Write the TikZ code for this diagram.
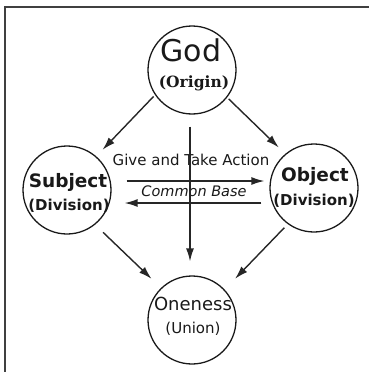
\documentclass[tikz,border=0pt]{standalone}
\usepackage{fontspec}
\setmainfont{DejaVu Sans}
\newfontfamily\serifb{DejaVu Serif}
\usetikzlibrary{arrows.meta}
\tikzset{
  circ/.style={circle,draw=black!90,line width=1.3pt,minimum size=88pt,inner sep=0pt},
  lbl/.style={anchor=base,inner sep=0pt,text=black!90},
  arr/.style={draw=black!85,line width=1.4pt,-{Latex[length=13pt,width=8pt]}},
  frame/.style={draw=black!75,line width=1.6pt}
}
\begin{document}
\begin{tikzpicture}[x=1pt,y=-1pt]
\useasboundingbox (0,0) rectangle (369,372);
\draw[frame] (5,372) -- (5,7) -- (369,7);
% circles
\node[circ] (god) at (192,70) {};
\node[circ] (subj) at (67,190) {};
\node[circ] (obj) at (314,188) {};
\node[circ] (one) at (192,320) {};
% texts
\node[lbl,font=\fontsize{30}{31}\selectfont] (godt) at (191,61) {God};
\node[lbl,font=\serifb\bfseries\fontsize{15.5}{16}\selectfont] (godo) at (194,87) {(Origin)};
\node[lbl,font=\bfseries\fontsize{18.5}{19}\selectfont] (subjt) at (68,187) {Subject};
\node[lbl,font=\bfseries\fontsize{15}{16}\selectfont] (subjd) at (69,210) {(Division)};
\node[lbl,font=\bfseries\fontsize{18.5}{19}\selectfont] (objt) at (315,181) {Object};
\node[lbl,font=\bfseries\fontsize{15}{16}\selectfont] (objd) at (314,205) {(Division)};
\node[lbl,font=\fontsize{18}{19}\selectfont] (onet) at (193,310) {Oneness};
\node[lbl,font=\fontsize{15}{16}\selectfont] (oneu) at (193,333) {(Union)};
\node[lbl,font=\fontsize{15}{16}\selectfont] (gt) at (191,165) {Give and Take Action};
\node[lbl,font=\itshape\fontsize{14.5}{15}\selectfont] (cb) at (194,196) {Common Base};
% arrows
\draw[arr,shorten <=2pt,shorten >=9pt] (god.214) -- (subj.49);
\draw[arr,shorten <=2pt,shorten >=9pt] (god.322) -- (obj.130);
\draw[arr,shorten <=12pt,shorten >=14pt] ([xshift=-2pt]god.south) -- ([xshift=-2pt]one.north);
\draw[arr,shorten <=11pt,shorten >=13pt] (subj.309) -- (one.134);
\draw[arr,shorten <=5pt,shorten >=15pt] (obj.234) -- (one.43);
\draw[arr] ([xshift=15pt,yshift=9pt]subj.east) -- ([xshift=-5pt,yshift=7pt]obj.west);
\draw[arr] ([xshift=-8pt,yshift=-15pt]obj.west) -- ([xshift=13pt,yshift=-13pt]subj.east);
\end{tikzpicture}
\end{document}
